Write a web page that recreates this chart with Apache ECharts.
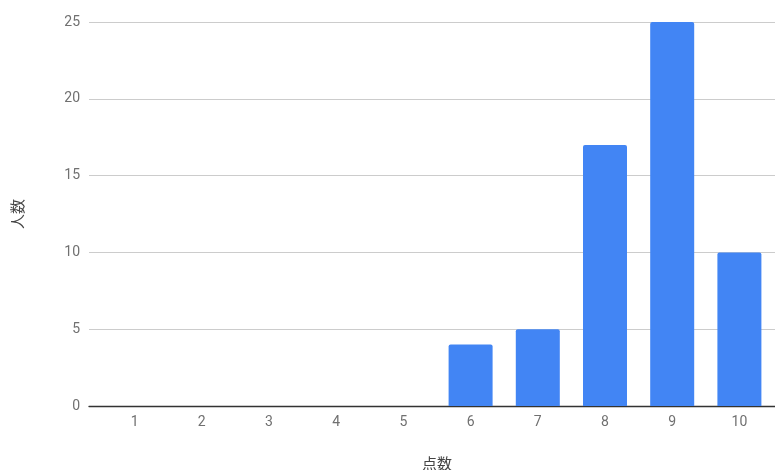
<!DOCTYPE html>
<html>
<head>
<meta charset="utf-8">
<script src="https://cdn.jsdelivr.net/npm/echarts@6/dist/echarts.min.js"></script>
<style>
  html, body { margin: 0; padding: 0; background: #fff; }
  #chart { width: 775px; height: 470px; }
</style>
</head>
<body>
<div id="chart"></div>
<script>
// Score distribution: number of people per score
const scores = ['1', '2', '3', '4', '5', '6', '7', '8', '9', '10'];
const counts = [0, 0, 0, 0, 0, 4, 5, 17, 25, 10];
const yTicks = { min: 0, max: 25, interval: 5 };

const font = 'Roboto, "Noto Sans CJK JP", sans-serif';
const chart = echarts.init(document.getElementById('chart'));

chart.setOption({
  animation: false,
  textStyle: { fontFamily: font },
  grid: [
    // gridlines and baseline span the full plotting width
    { left: 89, right: 0, top: 22, bottom: 64, outerBoundsMode: 'none', containLabel: false },
    // bars sit inside a slightly narrower band
    { left: 101, right: 2, top: 22, bottom: 64, outerBoundsMode: 'none', containLabel: false }
  ],
  xAxis: [
    {
      gridIndex: 0, type: 'category', data: scores,
      axisLine: { show: true, lineStyle: { color: '#333', width: 1.3 } },
      axisTick: { show: false }, axisLabel: { show: false }, splitLine: { show: false }
    },
    {
      gridIndex: 1, type: 'category', data: scores,
      axisLine: { show: false }, axisTick: { show: false },
      axisLabel: { color: '#707070', fontSize: 14, margin: 10, fontFamily: font },
      name: '点数', nameLocation: 'middle', nameGap: 52,
      nameTextStyle: { color: '#444', fontSize: 15, fontFamily: font }
    }
  ],
  yAxis: [
    {
      gridIndex: 0, type: 'value', min: yTicks.min, max: yTicks.max, interval: yTicks.interval,
      axisLine: { show: false }, axisTick: { show: false },
      axisLabel: { color: '#707070', fontSize: 14, margin: 9, fontFamily: font },
      splitLine: { lineStyle: { color: '#ccc', width: 1 } },
      name: '人数', nameLocation: 'middle', nameGap: 62, nameRotate: 90,
      nameTextStyle: { color: '#444', fontSize: 15, fontFamily: font }
    },
    {
      gridIndex: 1, type: 'value', min: yTicks.min, max: yTicks.max, interval: yTicks.interval,
      show: false
    }
  ],
  series: [{
    type: 'bar',
    xAxisIndex: 1, yAxisIndex: 1,
    data: counts,
    barWidth: 44,
    itemStyle: { color: '#4285F4', borderRadius: [2, 2, 0, 0] },
    z: 1
  }]
});
</script>
</body>
</html>
